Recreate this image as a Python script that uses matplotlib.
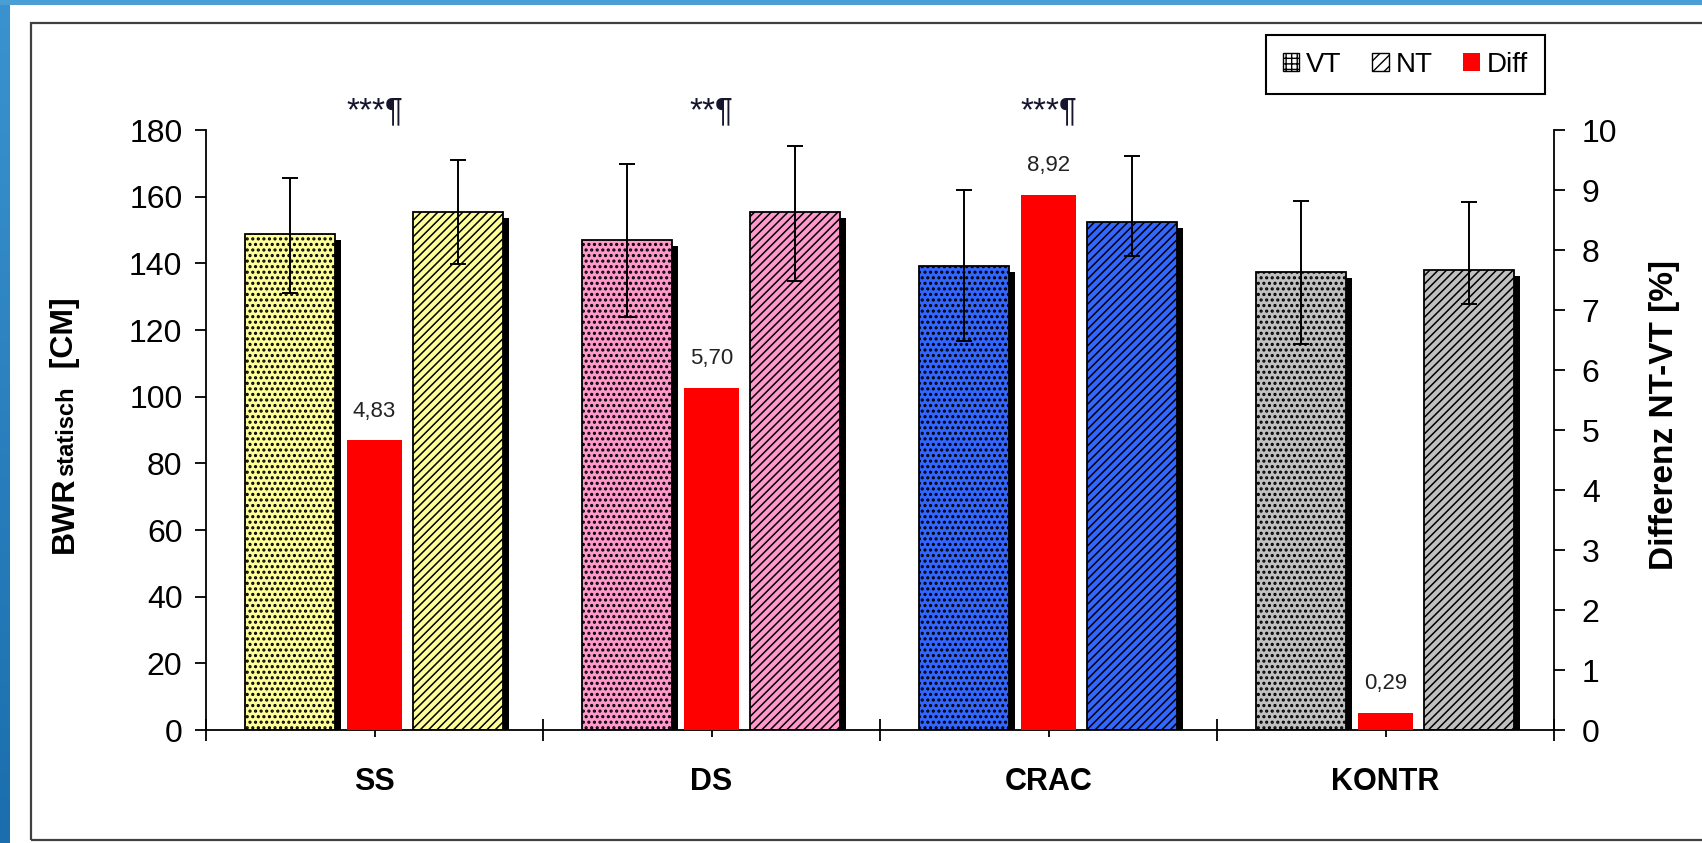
import numpy as np
import matplotlib
matplotlib.use("Agg")
import matplotlib.pyplot as plt
import matplotlib.patheffects as pe
from matplotlib.patches import Patch, Rectangle
from matplotlib.colors import LinearSegmentedColormap

plt.rcParams['font.family'] = ['Liberation Sans', 'DejaVu Sans']

# ---------------- data ----------------
categories = ["SS", "DS", "CRAC", "KONTR"]
vt_mean = [148.7, 147.0, 139.1, 137.3]
vt_upper = [165.5, 169.7, 161.9, 158.8]
vt_lower = [131.2, 124.0, 116.7, 115.7]
nt_mean = [155.3, 155.3, 152.5, 138.0]
nt_upper = [170.9, 175.1, 172.2, 158.3]
nt_lower = [139.7, 134.8, 142.1, 127.7]
diff_pct = [4.83, 5.70, 8.92, 0.29]
significance = ["***¶", "**¶", "***¶", ""]
group_colors = ["#FFFF99", "#FF99CC", "#3366FF", "#C0C0C0"]
left_ticks = [0, 20, 40, 60, 80, 100, 120, 140, 160, 180]
right_ticks = [0, 1, 2, 3, 4, 5, 6, 7, 8, 9, 10]
legend_labels = ["VT", "NT", "Diff"]

W, H = 1702, 843
fig = plt.figure(figsize=(W / 100, H / 100), dpi=100)
fig.patch.set_facecolor("white")

# blue border strips
lax = fig.add_axes([0, 0, 10 / W, 1])
cmap = LinearSegmentedColormap.from_list("b", ["#1A6EAD", "#3A93CF"])
lax.imshow(np.linspace(0, 1, 256).reshape(-1, 1), aspect="auto", cmap=cmap, origin="lower")
lax.axis("off")
tax = fig.add_axes([0, 1 - 5 / H, 1, 5 / H])
tax.set_facecolor("#4A9ED4")
tax.set_xticks([]); tax.set_yticks([])
for s in tax.spines.values():
    s.set_visible(False)

# chart frame
fig.patches.append(Rectangle((31 / W, 3 / H), 1.05, (820 - 3) / H, transform=fig.transFigure,
                             facecolor="none", edgecolor="#404040", linewidth=1.6, zorder=0))

ax = fig.add_axes([206 / W, 113 / H, (1554 - 206) / W, 600 / H])
ax2 = ax.twinx()

x = np.arange(len(categories))
vt_x = x - 0.251
nt_x = x + 0.247
shadow = [pe.SimplePatchShadow(offset=(4.3, -4.3), shadow_rgbFace="black", alpha=1.0), pe.Normal()]

with plt.rc_context({"hatch.linewidth": 1.5}):
    ax.bar(vt_x, vt_mean, width=0.265, color=group_colors, edgecolor="black", linewidth=1.3,
           hatch="...", path_effects=shadow, zorder=2)
with plt.rc_context({"hatch.linewidth": 1.1}):
    ax.bar(nt_x, nt_mean, width=0.267, color=group_colors, edgecolor="black", linewidth=1.3,
           hatch="////", path_effects=shadow, zorder=2)

vt_err = [np.array(vt_mean) - np.array(vt_lower), np.array(vt_upper) - np.array(vt_mean)]
nt_err = [np.array(nt_mean) - np.array(nt_lower), np.array(nt_upper) - np.array(nt_mean)]
for xx, m, e in [(vt_x, vt_mean, vt_err), (nt_x, nt_mean, nt_err)]:
    ax.errorbar(xx, m, yerr=e, fmt="none", ecolor="black", elinewidth=1.4,
                capsize=5.8, capthick=1.4, zorder=3)

ax2.bar(x, diff_pct, width=0.166, color="#FF0000", edgecolor="none", zorder=2)
for xi, v in zip(x, diff_pct):
    ax2.annotate(f"{v:.2f}".replace(".", ","), (xi, v), xytext=(0, 21), textcoords="offset points",
                 ha="center", va="center", fontsize=16, color="#222222")

for xi, s in zip(x, significance):
    if s:
        ax.text(xi, 182.8, s, ha="center", va="baseline", fontsize=24, color="#15152e", clip_on=False)

ax.set_xlim(-0.5, len(categories) - 0.5)
ax.set_ylim(0, 180)
ax2.set_ylim(0, 10)
ax.set_yticks(left_ticks)
ax.set_yticklabels([str(t) for t in left_ticks])
ax2.set_yticks(right_ticks)
ax2.set_yticklabels([str(t) for t in right_ticks])

for a in (ax, ax2):
    for s in a.spines.values():
        s.set_linewidth(1.3)
ax.spines["top"].set_visible(False)
ax.spines["right"].set_visible(False)
ax2.spines["top"].set_visible(False)
ax2.spines["left"].set_visible(False)
ax2.spines["bottom"].set_visible(False)

ax.tick_params(axis="y", direction="out", length=8, width=1.3, labelsize=23, pad=9, colors="black")
ax2.tick_params(axis="y", direction="out", length=8, width=1.3, labelsize=23, pad=12, colors="black")

ax.set_xticks(np.arange(len(categories) + 1) - 0.5)
ax.set_xticklabels([])
ax.set_xticks(x, minor=True)
ax.set_xticklabels(categories, minor=True, fontsize=22, fontweight="bold")
ax.tick_params(axis="x", which="major", direction="inout", length=16, width=1.3)
ax.tick_params(axis="x", which="minor", direction="inout", length=9.5, width=1.3, pad=22)

# left axis label: BWR + small "statisch" + [CM]
renderer = fig.canvas.get_renderer()
bx = 73 / W
t1 = fig.text(bx, 290 / H, "BWR", rotation=90, rotation_mode="anchor", ha="left", va="baseline",
              fontsize=23, fontweight="bold")
e1 = t1.get_window_extent(renderer)
t2 = fig.text(bx, e1.y1 / H + 1 / H, "statisch", rotation=90, rotation_mode="anchor", ha="left",
              va="baseline", fontsize=17, fontweight="bold")
e2 = t2.get_window_extent(renderer)
t3 = fig.text(bx, e2.y1 / H, "  [CM]", rotation=90, rotation_mode="anchor", ha="left",
              va="baseline", fontsize=23, fontweight="bold")

fig.text(1664 / W, 1 - 415 / H, "Differenz NT-VT [%]", rotation=90, ha="center", va="center",
         fontsize=24, fontweight="bold")

handles = [Patch(facecolor="white", edgecolor="black", hatch="+++", linewidth=1.0),
           Patch(facecolor="white", edgecolor="black", hatch="///", linewidth=1.0),
           Patch(facecolor="#FF0000", edgecolor="none")]
leg = fig.legend(handles, legend_labels, loc="upper right", bbox_to_anchor=(1545 / W, 1 - 35 / H),
                 ncol=3, frameon=True, fancybox=False, edgecolor="black", framealpha=1,
                 fontsize=20, handlelength=0.6, handleheight=0.6, handletextpad=0.25,
                 columnspacing=1.1, borderpad=0.6, borderaxespad=0)
leg.get_frame().set_linewidth(1.5)

fig.savefig("out.png", dpi=100)
